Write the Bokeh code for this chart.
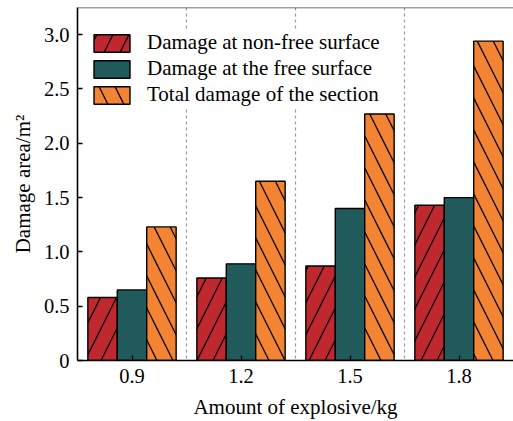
from bokeh.plotting import figure
from bokeh.models import ColumnDataSource, FactorRange, Range1d, FixedTicker, Span, Legend, LegendItem, NumeralTickFormatter
from bokeh.transform import dodge
from bokeh.embed import file_html
from bokeh.resources import INLINE

# Charge amounts (kg) and damaged areas (m^2)
charges = ["0.9", "1.2", "1.5", "1.8"]
non_free = [0.58, 0.76, 0.87, 1.43]
free_surface = [0.65, 0.89, 1.40, 1.50]
total = [1.23, 1.65, 2.27, 2.94]
y_ticks = [0, 0.5, 1.0, 1.5, 2.0, 2.5, 3.0]

series_labels = [
    "Damage at non-free surface",
    "Damage at the free surface",
    "Total damage of the section",
]

src = ColumnDataSource(dict(x=charges, a=non_free, b=free_surface, c=total))

FONT = "Liberation Serif"
RED = "#C0282F"
TEAL = "#215A5A"
ORANGE = "#F28434"

p = figure(
    width=513, height=421,
    x_range=FactorRange(*charges, range_padding=0),
    y_range=Range1d(0, 3.25),
    output_backend="svg", toolbar_location=None,
    min_border_left=77, min_border_right=0, min_border_top=7, min_border_bottom=61,
)
p.outline_line_color = None
p.grid.visible = False
p.background_fill_color = "white"

# light dashed separators between charge groups
for loc in [1, 2, 3]:
    p.add_layout(Span(location=loc, dimension="height", line_color="#9a9a9a",
                      line_dash="3 3", line_width=1.2, level="underlay"))

# top frame line
p.add_layout(Span(location=3.25, dimension="width", line_color="#444444", line_width=1.5))

bw = 0.27
common = dict(source=src, width=bw, line_color="black", line_width=1.4)
hatch = dict(hatch_color="black", hatch_weight=1.3, hatch_scale=32)
r1 = p.vbar(x=dodge("x", -bw, range=p.x_range), top="a", fill_color=RED,
            hatch_pattern="/", **common, **hatch)
r2 = p.vbar(x=dodge("x", 0, range=p.x_range), top="b", fill_color=TEAL, **common)
r3 = p.vbar(x=dodge("x", bw, range=p.x_range), top="c", fill_color=ORANGE,
            hatch_pattern="\\", **common, **hatch)

legend = Legend(items=[LegendItem(label=series_labels[0], renderers=[r1]),
                       LegendItem(label=series_labels[1], renderers=[r2]),
                       LegendItem(label=series_labels[2], renderers=[r3])],
                location=(12, 253))
legend.glyph_width = 45
legend.glyph_height = 22
legend.label_height = 22
legend.spacing = 1
legend.padding = 5
legend.margin = 0
legend.label_standoff = 13
legend.label_text_font = FONT
legend.label_text_font_size = "21px"
legend.label_text_color = "black"
legend.border_line_color = None
legend.background_fill_color = "white"
legend.background_fill_alpha = 1.0
p.add_layout(legend, "center")

# axes
p.yaxis.ticker = FixedTicker(ticks=y_ticks)
p.yaxis.formatter = NumeralTickFormatter(format="0.0")
p.yaxis.major_label_overrides = {0: "0"}
p.yaxis.axis_label = "Damage area/m²"
p.xaxis.axis_label = "Amount of explosive/kg"
for ax in (p.xaxis, p.yaxis):
    ax.axis_line_color = "black"
    ax.axis_line_width = 1.6
    ax.major_tick_in = 5
    ax.major_tick_out = 0
    ax.major_tick_line_color = "black"
    ax.major_tick_line_width = 1.3
    ax.minor_tick_line_color = None
    ax.major_label_text_font = FONT
    ax.major_label_text_font_size = "20.5px"
    ax.major_label_text_color = "black"
    ax.axis_label_text_font = FONT
    ax.axis_label_text_font_size = "21px"
    ax.axis_label_text_font_style = "normal"
    ax.axis_label_text_color = "black"
p.yaxis.major_label_standoff = 8
p.yaxis.axis_label_standoff = 6
p.xaxis.major_label_standoff = 8
p.xaxis.axis_label_standoff = 9

open("out.html", "w").write(file_html(p, INLINE))
